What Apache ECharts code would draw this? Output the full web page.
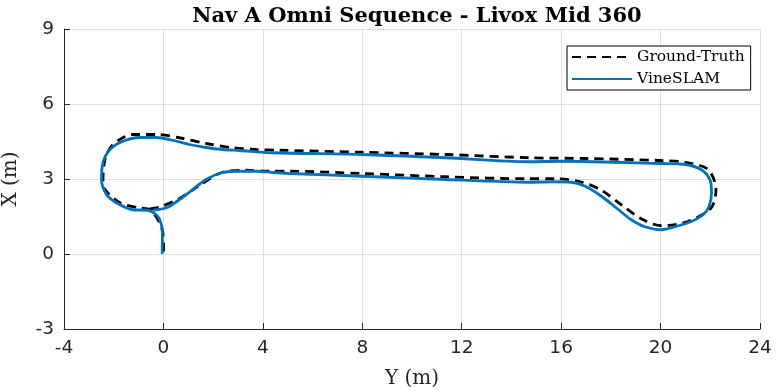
<!DOCTYPE html>
<html>
<head>
<meta charset="utf-8">
<script src="https://cdn.jsdelivr.net/npm/echarts@6/dist/echarts.min.js"></script>
<style>html,body{margin:0;padding:0;background:#fff;}#c{width:777px;height:391px;}</style>
</head>
<body>
<div id="c"></div>
<script>
// Axis ticks
var xTicks = [-4, 0, 4, 8, 12, 16, 20, 24];
var yTicks = [-3, 0, 3, 6, 9];

// Ground-truth trajectory (horizontal: Y, vertical: X)
var groundTruthY = [0.01, -0.02, -0.22, -0.55, -0.95, -1.75, -2.35, -2.43, -2.35, -2.03, -1.23, -0.28, 0.65, 1.72, 2.78, 3.73, 4.67, 7.99, 11.35, 14.69, 16.97, 20.03, 20.98, 21.91, 22.23, 22.03, 21.10, 20.03, 19.22, 18.42, 17.62, 16.77, 15.76, 14.69, 11.35, 7.99, 5.07, 4.26, 3.33, 2.38, 1.32, 0.65, -0.15, -0.55];
var groundTruthX = [0.10, 0.85, 1.37, 1.78, 1.84, 2.05, 2.58, 2.98, 3.78, 4.38, 4.78, 4.78, 4.65, 4.42, 4.25, 4.18, 4.15, 4.07, 3.98, 3.85, 3.82, 3.74, 3.67, 3.38, 2.58, 1.84, 1.30, 1.13, 1.41, 1.97, 2.55, 2.89, 3.01, 3.01, 3.09, 3.22, 3.31, 3.31, 3.35, 3.27, 2.66, 2.22, 1.88, 1.80];

// VineSLAM trajectory (horizontal: Y, vertical: X)
var vineY = [-0.05, -0.04, -0.15, -0.35, -0.62, -1.23, -1.89, -2.29, -2.49, -2.43, -2.15, -1.63, -0.95, -0.28, 0.37, 1.05, 1.72, 2.38, 3.06, 4.38, 7.99, 11.35, 14.69, 16.02, 20.03, 20.98, 21.63, 21.98, 22.05, 21.95, 21.71, 21.23, 20.58, 20.03, 19.37, 18.82, 18.31, 17.62, 16.97, 16.42, 15.62, 14.69, 11.35, 7.99, 5.07, 4.38, 3.73, 3.06, 2.38, 1.72, 1.18, 0.65, 0.12, -0.40];
var vineX = [0.00, 0.85, 1.38, 1.62, 1.75, 1.77, 2.05, 2.38, 2.98, 3.66, 4.18, 4.51, 4.66, 4.66, 4.55, 4.38, 4.26, 4.18, 4.14, 4.05, 3.98, 3.85, 3.69, 3.71, 3.62, 3.58, 3.38, 2.98, 2.46, 1.90, 1.57, 1.30, 1.09, 0.97, 1.09, 1.37, 1.77, 2.31, 2.71, 2.87, 2.89, 2.87, 2.98, 3.11, 3.22, 3.26, 3.31, 3.31, 3.26, 2.98, 2.58, 2.18, 1.85, 1.76];

function pairs(a, b) { return a.map(function (v, i) { return [v, b[i]]; }); }

var chart = echarts.init(document.getElementById('c'), null, { renderer: 'canvas' });
var serif = '"DejaVu Serif", "Liberation Serif", serif';
var sans = '"DejaVu Sans", sans-serif';
chart.setOption({
  animation: false,
  backgroundColor: '#fff',
  title: {
    text: 'Nav A Omni Sequence - Livox Mid 360',
    left: 412, top: 1, textAlign: 'center',
    textStyle: { fontFamily: serif, fontWeight: 'bold', fontSize: 21, color: '#000' }
  },
  grid: { left: 64, right: 17, top: 29, bottom: 62, containLabel: false, outerBoundsMode: 'none', show: false },
  legend: {
    orient: 'vertical', left: 567, top: 46,
    backgroundColor: '#fff', borderColor: '#000', borderWidth: 1,
    padding: [3, 6, 3, 4], itemGap: 6, itemWidth: 60, itemHeight: 16,
    itemStyle: { opacity: 0 },
    textStyle: { fontFamily: serif, fontSize: 15.5, color: '#000' },
    data: ['Ground-Truth', 'VineSLAM']
  },
  xAxis: {
    type: 'value', min: xTicks[0], max: xTicks[xTicks.length - 1], interval: 4,
    name: 'Y (m)', nameLocation: 'middle', nameGap: 40,
    nameTextStyle: { fontFamily: serif, fontSize: 20, color: '#262626' },
    axisLine: { show: true, onZero: false, lineStyle: { color: '#262626', width: 1 } },
    axisTick: { show: true, inside: true, length: 6, lineStyle: { color: '#262626' } },
    axisLabel: { fontFamily: sans, fontSize: 18.5, color: '#262626', margin: 10 },
    splitLine: { show: true, lineStyle: { color: '#dfdfdf', width: 1 } }
  },
  yAxis: {
    type: 'value', min: yTicks[0], max: yTicks[yTicks.length - 1], interval: 3,
    name: 'X (m)', nameLocation: 'middle', nameGap: 43, nameRotate: 90,
    nameTextStyle: { fontFamily: serif, fontSize: 20, color: '#262626' },
    axisLine: { show: true, onZero: false, lineStyle: { color: '#262626', width: 1 } },
    axisTick: { show: true, inside: true, length: 6, lineStyle: { color: '#262626' } },
    axisLabel: { fontFamily: sans, fontSize: 18.5, color: '#262626', margin: 10 },
    splitLine: { show: true, lineStyle: { color: '#dfdfdf', width: 1 } }
  },
  series: [
    {
      name: 'Ground-Truth', type: 'line', showSymbol: false, symbol: 'none', smooth: 0.3,
      data: pairs(groundTruthY, groundTruthX),
      lineStyle: { color: '#000', width: 2.8, type: [9, 6] },
      itemStyle: { color: '#000' }, z: 2
    },
    {
      name: 'VineSLAM', type: 'line', showSymbol: false, symbol: 'none', smooth: 0.3,
      data: pairs(vineY, vineX),
      lineStyle: { color: '#0072BD', width: 2.8 },
      itemStyle: { color: '#0072BD' }, z: 3
    }
  ]
});
</script>
</body>
</html>
